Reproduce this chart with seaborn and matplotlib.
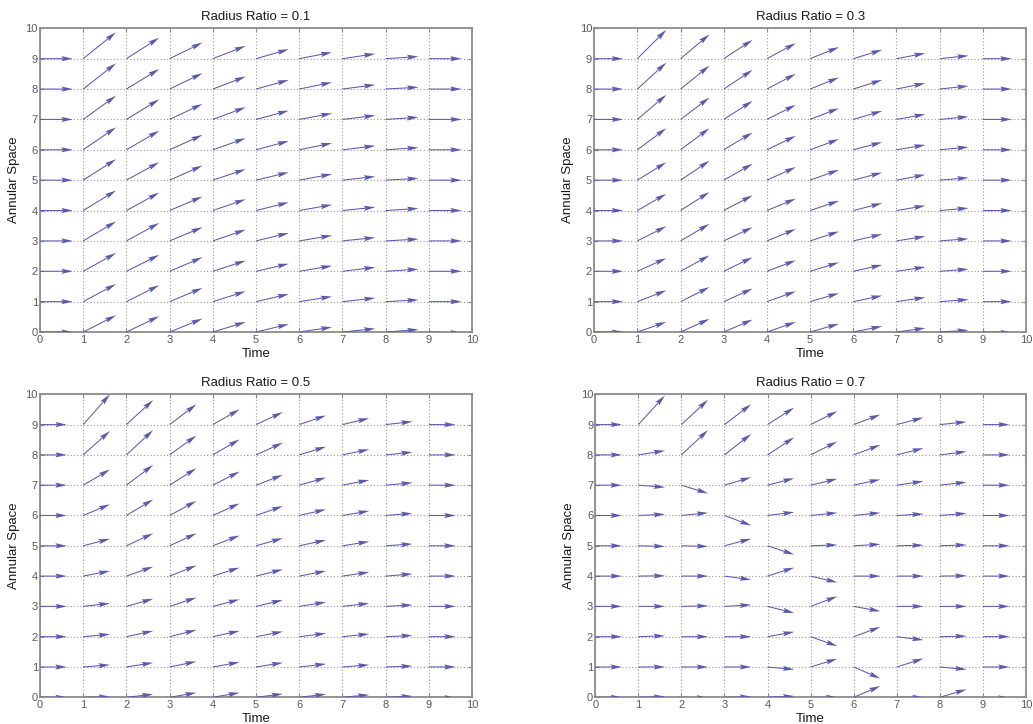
import numpy as np
import matplotlib
matplotlib.use("Agg")
import matplotlib.pyplot as plt
import seaborn as sns

# ---------------- data ----------------
time_ticks = list(range(11))
space_ticks = list(range(11))
time_pos = list(range(10))      # arrow origins along Time
space_pos = list(range(10))     # arrow origins along Annular Space

titles = ["Radius Ratio = 0.1", "Radius Ratio = 0.3",
          "Radius Ratio = 0.5", "Radius Ratio = 0.7"]

# horizontal component of every arrow in each panel (constant per panel)
u_len = [0.76, 0.67, 0.62, 0.62]

# vertical components; rows listed from Annular Space = 9 (top) down to 0
v_r01 = [
    [0, 0.87, 0.69, 0.53, 0.42, 0.31, 0.21, 0.16, 0.07, 0],
    [0, 0.85, 0.66, 0.52, 0.41, 0.30, 0.22, 0.14, 0.06, 0],
    [0, 0.78, 0.66, 0.51, 0.40, 0.29, 0.20, 0.13, 0.07, 0],
    [0, 0.74, 0.63, 0.49, 0.38, 0.29, 0.22, 0.13, 0.07, 0],
    [0, 0.69, 0.59, 0.48, 0.36, 0.26, 0.20, 0.12, 0.06, 0],
    [0, 0.66, 0.59, 0.46, 0.37, 0.27, 0.19, 0.11, 0.07, 0],
    [0, 0.64, 0.59, 0.45, 0.37, 0.26, 0.18, 0.11, 0.06, 0],
    [0, 0.60, 0.54, 0.46, 0.35, 0.25, 0.18, 0.13, 0.07, 0],
    [0, 0.58, 0.54, 0.45, 0.34, 0.25, 0.17, 0.12, 0.06, 0],
    [0, 0.55, 0.52, 0.44, 0.33, 0.26, 0.16, 0.11, 0.08, -0.03],
]
v_r03 = [
    [0, 0.95, 0.80, 0.62, 0.51, 0.38, 0.29, 0.18, 0.10, 0],
    [0, 0.87, 0.77, 0.63, 0.50, 0.38, 0.30, 0.19, 0.10, 0],
    [0, 0.81, 0.72, 0.61, 0.48, 0.37, 0.28, 0.17, 0.09, 0],
    [0, 0.71, 0.71, 0.57, 0.46, 0.35, 0.25, 0.16, 0.09, 0],
    [0, 0.59, 0.64, 0.54, 0.43, 0.34, 0.25, 0.18, 0.08, 0],
    [0, 0.55, 0.61, 0.50, 0.39, 0.32, 0.24, 0.16, 0.08, 0],
    [0, 0.48, 0.56, 0.45, 0.39, 0.31, 0.22, 0.15, 0.07, 0],
    [0, 0.43, 0.52, 0.46, 0.36, 0.29, 0.21, 0.14, 0.07, 0],
    [0, 0.37, 0.48, 0.43, 0.34, 0.28, 0.20, 0.14, 0.07, 0],
    [0, 0.33, 0.43, 0.41, 0.33, 0.27, 0.19, 0.13, 0.06, -0.02],
]
v_r05 = [
    [0, 1.00, 0.81, 0.67, 0.50, 0.41, 0.30, 0.21, 0.10, 0],
    [0, 0.79, 0.82, 0.64, 0.51, 0.40, 0.27, 0.18, 0.09, 0],
    [0, 0.52, 0.67, 0.56, 0.45, 0.34, 0.25, 0.17, 0.08, 0],
    [0, 0.37, 0.53, 0.48, 0.40, 0.31, 0.20, 0.15, 0.07, 0],
    [0, 0.23, 0.41, 0.41, 0.34, 0.25, 0.19, 0.14, 0.06, 0],
    [0, 0.17, 0.31, 0.35, 0.28, 0.22, 0.17, 0.13, 0.07, 0],
    [0, 0.10, 0.25, 0.29, 0.23, 0.21, 0.14, 0.10, 0.05, 0],
    [0, 0.08, 0.19, 0.22, 0.19, 0.17, 0.11, 0.09, 0.04, 0],
    [0, 0.07, 0.14, 0.18, 0.16, 0.14, 0.10, 0.07, 0.03, 0],
    [0, 0.02, 0.10, 0.15, 0.15, 0.11, 0.10, 0.08, 0.04, -0.02],
]
v_r07 = [
    [0, 0.96, 0.82, 0.67, 0.56, 0.44, 0.33, 0.23, 0.09, 0],
    [0, 0.14, 0.82, 0.69, 0.58, 0.44, 0.33, 0.22, 0.11, 0],
    [0, -0.07, -0.27, 0.26, 0.23, 0.21, 0.19, 0.13, 0.10, 0],
    [0, 0.04, 0.09, -0.33, 0.11, 0.09, 0.09, 0.05, 0.07, 0],
    [0, -0.02, -0.02, 0.23, -0.29, 0.03, 0.05, 0.02, 0.03, 0],
    [0, 0.01, 0, -0.12, 0.28, -0.21, 0, 0, 0.01, 0],
    [0, 0, 0.02, 0.05, -0.22, 0.33, -0.16, 0, 0, 0],
    [0, 0.03, 0, 0, 0.16, -0.31, 0.32, -0.11, 0.02, 0],
    [0, 0, 0, 0, -0.08, 0.27, -0.38, 0.28, -0.08, 0],
    [0, 0.02, -0.02, 0.02, 0.04, 0, 0.37, 0, 0.26, -0.03],
]
v_panels = [v_r01, v_r03, v_r05, v_r07]

# ---------------- style ----------------
sns.set_theme(style="whitegrid")
plt.rcParams['font.family'] = ['Liberation Sans', 'DejaVu Sans']

arrow_color = "#5a5aae"
spine_color = "#8c8c8c"
tick_color = "#5a5a5a"

fig = plt.figure(figsize=(10.33, 7.24), dpi=100)
fig.patch.set_facecolor("white")

positions = [
    [0.0387, 0.5414, 0.4183, 0.4195],
    [0.5752, 0.5414, 0.4180, 0.4195],
    [0.0387, 0.0369, 0.4183, 0.4185],
    [0.5762, 0.0369, 0.4170, 0.4185],
]

X, Y = np.meshgrid(time_pos, space_pos)

for k in range(4):
    ax = fig.add_axes(positions[k])
    ax.set_facecolor("white")
    V = np.flipud(np.array(v_panels[k], dtype=float))
    U = np.full_like(V, u_len[k])
    ax.quiver(X, Y, U, V, angles='xy', scale_units='xy', scale=1,
              color=arrow_color, width=0.0024, headwidth=5.0,
              headlength=11, headaxislength=9.5, zorder=3)
    ax.set_xlim(0, 10)
    ax.set_ylim(0, 10)
    ax.set_xticks(time_ticks)
    ax.set_yticks(space_ticks)
    ax.grid(True, color="#9a9a9a", linestyle=(0, (1, 2)), linewidth=0.8)
    for s in ax.spines.values():
        s.set_color(spine_color)
        s.set_linewidth(1.3)
        s.set_visible(True)
    ax.tick_params(axis='both', direction='in', length=3, width=0.8,
                   color=spine_color, labelcolor=tick_color, labelsize=8)
    ax.tick_params(axis='x', pad=2, top=True, bottom=True)
    ax.tick_params(axis='y', pad=1.5, left=True, right=True)
    ax.set_title(titles[k], fontsize=9.5, color="#1a1a1a", pad=6)
    ax.set_xlabel("Time", fontsize=9.5, color="#1a1a1a", labelpad=2)
    ax.set_ylabel("Annular Space", fontsize=9.5, color="#1a1a1a", labelpad=4)

fig.savefig("out.png", dpi=100, facecolor="white")
